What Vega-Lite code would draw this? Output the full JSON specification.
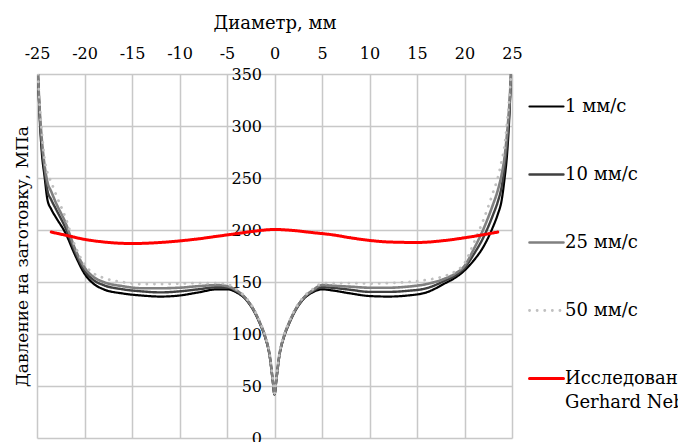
{
 "$schema": "https://vega.github.io/schema/vega-lite/v6.json",
 "width": 475,
 "height": 364,
 "autosize": {"type": "none"},
 "padding": {"left": 37, "top": 74, "right": 166, "bottom": 4},
 "background": "white",
 "config": {"view": {"stroke": null}, "font": "DejaVu Serif"},
 "data": {"values": [
  {"s":"1 мм/с","x":-24.9,"y":350},{"s":"1 мм/с","x":-24.7,"y":305},{"s":"1 мм/с","x":-24.5,"y":275},{"s":"1 мм/с","x":-24.2,"y":251},{"s":"1 мм/с","x":-23.9,"y":229},{"s":"1 мм/с","x":-23.5,"y":220},{"s":"1 мм/с","x":-23,"y":212},{"s":"1 мм/с","x":-22,"y":197},{"s":"1 мм/с","x":-21,"y":176},{"s":"1 мм/с","x":-20,"y":158},{"s":"1 мм/с","x":-19,"y":148},{"s":"1 мм/с","x":-18,"y":143},{"s":"1 мм/с","x":-16,"y":139},{"s":"1 мм/с","x":-14,"y":137},{"s":"1 мм/с","x":-12,"y":136},{"s":"1 мм/с","x":-10,"y":137},{"s":"1 мм/с","x":-8,"y":140},{"s":"1 мм/с","x":-6,"y":143},{"s":"1 мм/с","x":-5,"y":143},{"s":"1 мм/с","x":-4,"y":140},{"s":"1 мм/с","x":-3,"y":133},{"s":"1 мм/с","x":-2,"y":119},{"s":"1 мм/с","x":-1.5,"y":109},{"s":"1 мм/с","x":-1,"y":97},{"s":"1 мм/с","x":-0.5,"y":78},{"s":"1 мм/с","x":-0.2,"y":56},{"s":"1 мм/с","x":0,"y":42},{"s":"1 мм/с","x":0.2,"y":56},{"s":"1 мм/с","x":0.5,"y":78},{"s":"1 мм/с","x":1,"y":97},{"s":"1 мм/с","x":1.5,"y":109},{"s":"1 мм/с","x":2,"y":119},{"s":"1 мм/с","x":3,"y":133},{"s":"1 мм/с","x":4,"y":140},{"s":"1 мм/с","x":5,"y":143},{"s":"1 мм/с","x":6,"y":142},{"s":"1 мм/с","x":8,"y":139},{"s":"1 мм/с","x":10,"y":136.5},{"s":"1 мм/с","x":12,"y":136},{"s":"1 мм/с","x":14,"y":137},{"s":"1 мм/с","x":16,"y":140},{"s":"1 мм/с","x":18,"y":149},{"s":"1 мм/с","x":19,"y":154},{"s":"1 мм/с","x":20,"y":161},{"s":"1 мм/с","x":21,"y":171},{"s":"1 мм/с","x":22,"y":184},{"s":"1 мм/с","x":23,"y":203},{"s":"1 мм/с","x":23.5,"y":215},{"s":"1 мм/с","x":23.9,"y":228},{"s":"1 мм/с","x":24.2,"y":248},{"s":"1 мм/с","x":24.5,"y":275},{"s":"1 мм/с","x":24.7,"y":305},{"s":"1 мм/с","x":24.9,"y":350},
  {"s":"10 мм/с","x":-24.9,"y":350},{"s":"10 мм/с","x":-24.7,"y":309.5},{"s":"10 мм/с","x":-24.5,"y":282},{"s":"10 мм/с","x":-24.2,"y":257},{"s":"10 мм/с","x":-23.9,"y":238},{"s":"10 мм/с","x":-23.5,"y":229},{"s":"10 мм/с","x":-23,"y":220},{"s":"10 мм/с","x":-22,"y":202},{"s":"10 мм/с","x":-21,"y":179},{"s":"10 мм/с","x":-20,"y":161},{"s":"10 мм/с","x":-19,"y":151.5},{"s":"10 мм/с","x":-18,"y":147},{"s":"10 мм/с","x":-16,"y":143},{"s":"10 мм/с","x":-14,"y":141},{"s":"10 мм/с","x":-12,"y":140},{"s":"10 мм/с","x":-10,"y":141},{"s":"10 мм/с","x":-8,"y":143},{"s":"10 мм/с","x":-6,"y":145},{"s":"10 мм/с","x":-5,"y":145},{"s":"10 мм/с","x":-4,"y":141},{"s":"10 мм/с","x":-3,"y":134},{"s":"10 мм/с","x":-2,"y":120},{"s":"10 мм/с","x":-1.5,"y":110},{"s":"10 мм/с","x":-1,"y":98},{"s":"10 мм/с","x":-0.5,"y":79},{"s":"10 мм/с","x":-0.2,"y":57},{"s":"10 мм/с","x":0,"y":42},{"s":"10 мм/с","x":0.2,"y":57},{"s":"10 мм/с","x":0.5,"y":79},{"s":"10 мм/с","x":1,"y":98},{"s":"10 мм/с","x":1.5,"y":110},{"s":"10 мм/с","x":2,"y":120},{"s":"10 мм/с","x":3,"y":134},{"s":"10 мм/с","x":4,"y":141},{"s":"10 мм/с","x":5,"y":145},{"s":"10 мм/с","x":6,"y":144.5},{"s":"10 мм/с","x":8,"y":142.5},{"s":"10 мм/с","x":10,"y":140.5},{"s":"10 мм/с","x":12,"y":140.5},{"s":"10 мм/с","x":14,"y":141.5},{"s":"10 мм/с","x":16,"y":144},{"s":"10 мм/с","x":18,"y":151.5},{"s":"10 мм/с","x":19,"y":156},{"s":"10 мм/с","x":20,"y":163.5},{"s":"10 мм/с","x":21,"y":177},{"s":"10 мм/с","x":22,"y":193},{"s":"10 мм/с","x":23,"y":214.5},{"s":"10 мм/с","x":23.5,"y":227},{"s":"10 мм/с","x":23.9,"y":241},{"s":"10 мм/с","x":24.2,"y":259},{"s":"10 мм/с","x":24.5,"y":285.5},{"s":"10 мм/с","x":24.7,"y":312},{"s":"10 мм/с","x":24.9,"y":350},
  {"s":"25 мм/с","x":-24.9,"y":350},{"s":"25 мм/с","x":-24.7,"y":313.5},{"s":"25 мм/с","x":-24.5,"y":288},{"s":"25 мм/с","x":-24.2,"y":262},{"s":"25 мм/с","x":-23.9,"y":246},{"s":"25 мм/с","x":-23.5,"y":237},{"s":"25 мм/с","x":-23,"y":226},{"s":"25 мм/с","x":-22,"y":207},{"s":"25 мм/с","x":-21,"y":182},{"s":"25 мм/с","x":-20,"y":164},{"s":"25 мм/с","x":-19,"y":154.5},{"s":"25 мм/с","x":-18,"y":150},{"s":"25 мм/с","x":-16,"y":146},{"s":"25 мм/с","x":-14,"y":144},{"s":"25 мм/с","x":-12,"y":144},{"s":"25 мм/с","x":-10,"y":144.5},{"s":"25 мм/с","x":-8,"y":146},{"s":"25 мм/с","x":-6,"y":147},{"s":"25 мм/с","x":-5,"y":146},{"s":"25 мм/с","x":-4,"y":142},{"s":"25 мм/с","x":-3,"y":134},{"s":"25 мм/с","x":-2,"y":120},{"s":"25 мм/с","x":-1.5,"y":110},{"s":"25 мм/с","x":-1,"y":98},{"s":"25 мм/с","x":-0.5,"y":79},{"s":"25 мм/с","x":-0.2,"y":57},{"s":"25 мм/с","x":0,"y":43},{"s":"25 мм/с","x":0.2,"y":57},{"s":"25 мм/с","x":0.5,"y":79},{"s":"25 мм/с","x":1,"y":98},{"s":"25 мм/с","x":1.5,"y":110},{"s":"25 мм/с","x":2,"y":120},{"s":"25 мм/с","x":3,"y":134},{"s":"25 мм/с","x":4,"y":142},{"s":"25 мм/с","x":5,"y":147},{"s":"25 мм/с","x":6,"y":146.5},{"s":"25 мм/с","x":8,"y":145.5},{"s":"25 мм/с","x":10,"y":144.5},{"s":"25 мм/с","x":12,"y":144.5},{"s":"25 мм/с","x":14,"y":145.5},{"s":"25 мм/с","x":16,"y":148},{"s":"25 мм/с","x":18,"y":153.5},{"s":"25 мм/с","x":19,"y":158},{"s":"25 мм/с","x":20,"y":165.5},{"s":"25 мм/с","x":21,"y":182},{"s":"25 мм/с","x":22,"y":201},{"s":"25 мм/с","x":23,"y":224.5},{"s":"25 мм/с","x":23.5,"y":238},{"s":"25 мм/с","x":23.9,"y":253},{"s":"25 мм/с","x":24.2,"y":269},{"s":"25 мм/с","x":24.5,"y":295},{"s":"25 мм/с","x":24.7,"y":318},{"s":"25 мм/с","x":24.9,"y":350},
  {"s":"50 мм/с","x":-24.9,"y":350},{"s":"50 мм/с","x":-24.7,"y":318},{"s":"50 мм/с","x":-24.5,"y":295},{"s":"50 мм/с","x":-24.2,"y":268},{"s":"50 мм/с","x":-23.9,"y":255},{"s":"50 мм/с","x":-23.5,"y":246},{"s":"50 мм/с","x":-23,"y":234},{"s":"50 мм/с","x":-22,"y":212},{"s":"50 мм/с","x":-21,"y":185},{"s":"50 мм/с","x":-20,"y":167},{"s":"50 мм/с","x":-19,"y":158},{"s":"50 мм/с","x":-18,"y":154},{"s":"50 мм/с","x":-16,"y":150},{"s":"50 мм/с","x":-14,"y":148},{"s":"50 мм/с","x":-12,"y":148},{"s":"50 мм/с","x":-10,"y":148.5},{"s":"50 мм/с","x":-8,"y":149},{"s":"50 мм/с","x":-6,"y":149},{"s":"50 мм/с","x":-5,"y":148},{"s":"50 мм/с","x":-4,"y":143},{"s":"50 мм/с","x":-3,"y":135},{"s":"50 мм/с","x":-2,"y":121},{"s":"50 мм/с","x":-1.5,"y":111},{"s":"50 мм/с","x":-1,"y":99},{"s":"50 мм/с","x":-0.5,"y":80},{"s":"50 мм/с","x":-0.2,"y":58},{"s":"50 мм/с","x":0,"y":43},{"s":"50 мм/с","x":0.2,"y":58},{"s":"50 мм/с","x":0.5,"y":80},{"s":"50 мм/с","x":1,"y":99},{"s":"50 мм/с","x":1.5,"y":111},{"s":"50 мм/с","x":2,"y":121},{"s":"50 мм/с","x":3,"y":135},{"s":"50 мм/с","x":4,"y":143},{"s":"50 мм/с","x":5,"y":148.5},{"s":"50 мм/с","x":6,"y":149},{"s":"50 мм/с","x":8,"y":149},{"s":"50 мм/с","x":10,"y":148.5},{"s":"50 мм/с","x":12,"y":149},{"s":"50 мм/с","x":14,"y":150},{"s":"50 мм/с","x":16,"y":152},{"s":"50 мм/с","x":18,"y":156},{"s":"50 мм/с","x":19,"y":160},{"s":"50 мм/с","x":20,"y":168},{"s":"50 мм/с","x":21,"y":188},{"s":"50 мм/с","x":22,"y":210},{"s":"50 мм/с","x":23,"y":236},{"s":"50 мм/с","x":23.5,"y":250},{"s":"50 мм/с","x":23.9,"y":266},{"s":"50 мм/с","x":24.2,"y":280},{"s":"50 мм/с","x":24.5,"y":305},{"s":"50 мм/с","x":24.7,"y":325},{"s":"50 мм/с","x":24.9,"y":350},
  {"s":"Исследование Gerhard Nebel","x":-23.5,"y":198},{"s":"Исследование Gerhard Nebel","x":-22,"y":195},{"s":"Исследование Gerhard Nebel","x":-20,"y":191},{"s":"Исследование Gerhard Nebel","x":-18,"y":188.5},{"s":"Исследование Gerhard Nebel","x":-15,"y":187},{"s":"Исследование Gerhard Nebel","x":-12,"y":188},{"s":"Исследование Gerhard Nebel","x":-10,"y":189.5},{"s":"Исследование Gerhard Nebel","x":-8,"y":191.5},{"s":"Исследование Gerhard Nebel","x":-6,"y":194},{"s":"Исследование Gerhard Nebel","x":-4,"y":196.5},{"s":"Исследование Gerhard Nebel","x":-2,"y":199},{"s":"Исследование Gerhard Nebel","x":0,"y":200.5},{"s":"Исследование Gerhard Nebel","x":2,"y":199.5},{"s":"Исследование Gerhard Nebel","x":4,"y":197.5},{"s":"Исследование Gerhard Nebel","x":6,"y":195.5},{"s":"Исследование Gerhard Nebel","x":8,"y":192.5},{"s":"Исследование Gerhard Nebel","x":10,"y":190},{"s":"Исследование Gerhard Nebel","x":12,"y":188.5},{"s":"Исследование Gerhard Nebel","x":15,"y":188},{"s":"Исследование Gerhard Nebel","x":18,"y":190},{"s":"Исследование Gerhard Nebel","x":20,"y":192.5},{"s":"Исследование Gerhard Nebel","x":22,"y":195.5},{"s":"Исследование Gerhard Nebel","x":23.5,"y":198}
 ]},
 "mark": {"type": "line", "strokeCap": "round", "strokeJoin": "round", "clip": true, "interpolate": "monotone"},
 "encoding": {
  "x": {"field": "x", "type": "quantitative",
   "scale": {"domain": [-25, 25], "nice": false, "zero": false},
   "axis": {"orient": "top", "values": [-25,-20,-15,-10,-5,0,5,10,15,20,25], "labelExpr": "toString(datum.value)",
    "title": "Диаметр, мм", "titleFont": "DejaVu Serif", "titleFontSize": 18, "titleFontWeight": "normal", "titleColor": "black", "titlePadding": 13,
    "labelFont": "DejaVu Serif", "labelFontSize": 16, "labelColor": "black", "labelPadding": 13, "labelFlush": false,
    "ticks": false, "tickSize": 0, "domain": false, "grid": true, "gridColor": "#c8c8c8", "gridWidth": 1.5}},
  "y": {"field": "y", "type": "quantitative",
   "scale": {"domain": [0, 350], "nice": false},
   "axis": {"orient": "left", "offset": -237.5, "values": [0,50,100,150,200,250,300,350],
    "labelFont": "DejaVu Serif", "labelFontSize": 16, "labelColor": "black", "labelAlign": "right", "labelBaseline": "middle", "labelPadding": 13, "labelFlush": false,
    "ticks": false, "tickSize": 0, "domain": false, "grid": true, "gridColor": "#c8c8c8", "gridWidth": 1.5,
    "title": "Давление на заготовку, МПа", "titleFont": "DejaVu Serif", "titleFontSize": 17, "titleFontWeight": "normal", "titleColor": "black",
    "titleX": -252, "titleY": 182, "titleAngle": -90, "titleAlign": "center", "titleBaseline": "middle"}},
  "color": {"field": "s", "type": "nominal",
   "scale": {"domain": ["1 мм/с","10 мм/с","25 мм/с","50 мм/с","Исследование Gerhard Nebel"], "range": ["#000000","#404040","#808080","#c0c0c0","#ff0000"]},
   "legend": {"orient": "none", "legendX": 491, "legendY": 14, "title": null, "padding": 0, "rowPadding": 40,
    "symbolType": "stroke", "symbolSize": 1156, "labelOffset": 0, "labelFont": "DejaVu Serif", "labelFontSize": 18, "labelColor": "black", "labelLimit": 600,
    "labelExpr": "datum.label == 'Исследование Gerhard Nebel' ? ['Исследование', 'Gerhard Nebel'] : datum.label",
    "encode": {"labels": {"update": {"lineHeight": {"value": 24}}}, "symbols": {"update": {"strokeCap": {"value": "round"}}}}}},
  "strokeDash": {"field": "s", "type": "nominal",
   "scale": {"domain": ["1 мм/с","10 мм/с","25 мм/с","50 мм/с","Исследование Gerhard Nebel"], "range": [[1,0],[1,0],[1,0],[0.1,7.5],[1,0]]}},
  "strokeWidth": {"field": "s", "type": "nominal",
   "scale": {"domain": ["1 мм/с","10 мм/с","25 мм/с","50 мм/с","Исследование Gerhard Nebel"], "range": [2.2,3,3,4.5,3]}}
 }
}
